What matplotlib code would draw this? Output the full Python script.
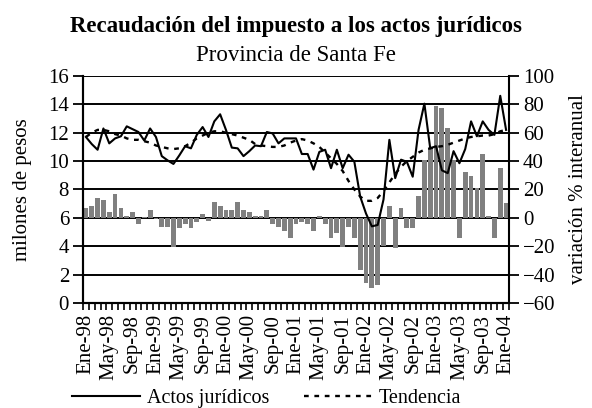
import matplotlib.pyplot as plt
import numpy as np

plt.rcParams['font.family'] = 'Liberation Serif'

meses = ['Ene', 'Feb', 'Mar', 'Abr', 'May', 'Jun', 'Jul', 'Ago', 'Sep', 'Oct', 'Nov', 'Dic']
periodos = [f'{meses[k % 12]}-{(98 + k // 12) % 100:02d}' for k in range(73)]

# recaudacion mensual, millones de pesos (Ene-98 .. Ene-04)
actos = [11.7, 11.2, 10.8, 12.3, 11.25, 11.6, 11.75, 12.45, 12.25, 12.05,
         11.45, 12.3, 11.7, 10.35, 10.05, 9.8, 10.4, 11.05, 10.9, 11.85,
         12.4, 11.7, 12.8, 13.3, 12.2, 10.95, 10.9, 10.35, 10.7, 11.1,
         11.05, 12.05, 11.95, 11.25, 11.6, 11.6, 11.6, 10.5, 10.5, 9.4,
         10.65, 10.8, 9.5, 10.8, 9.5, 10.45, 9.95, 7.5, 6.3, 5.4,
         5.5, 7.3, 11.5, 8.8, 10.1, 9.95, 8.9, 12.2, 14.05, 10.9,
         11.05, 9.35, 9.15, 10.7, 9.85, 10.85, 12.8, 11.75, 12.8, 12.2,
         11.85, 14.6, 12.2]

tendencia = [11.7, 12.0, 12.2, 12.2, 12.1, 11.9, 11.8, 11.6, 11.5, 11.5,
             11.4, 11.3, 11.1, 11.0, 10.9, 10.85, 10.9, 11.05, 11.3, 11.6,
             11.8, 12.0, 12.1, 12.1, 12.0, 11.9, 11.8, 11.65, 11.5, 11.2,
             11.1, 11.05, 11.0, 11.0, 11.1, 11.3, 11.45, 11.55, 11.45, 11.25,
             11.0, 10.6, 10.2, 9.8, 9.3, 8.6, 8.0, 7.5, 7.2, 7.2,
             7.4, 7.9, 8.5, 9.1, 9.6, 10.0, 10.3, 10.6, 10.8, 10.9,
             11.0, 11.05, 11.15, 11.3, 11.45, 11.6, 11.7, 11.75, 11.8, 11.8,
             11.9, 12.1, 12.2]

# variacion % interanual
variacion = [6.8, 8.5, 13.9, 12.7, 4.0, 16.9, 6.8, 1.6, 4.0, -4.5,
             0.9, 5.6, -0.5, -6.1, -6.1, -20.7, -7.3, -4.5, -7.3, -3.0,
             2.8, -1.9, 11.5, 8.5, 5.6, 5.6, 11.3, 5.6, 4.2, 1.4,
             1.4, 5.6, -4.5, -6.1, -9.2, -14.3, -4.5, -2.7, -4.5, -9.2,
             1.4, -4.5, -14.3, -10.4, -20.7, -6.1, -14.3, -36.6, -45.6, -49.6,
             -47.2, -19.7, 8.5, -21.4, 6.8, -7.3, -7.3, 15.5, 40.9, 49.1,
             78.9, 77.3, 63.2, 40.9, -14.3, 32.6, 29.6, 20.9, 44.9, 1.4,
             -14.3, 35.4, 10.3]

x = np.arange(len(periodos))

fig = plt.figure(figsize=(5.92, 4.08), dpi=100)
ax = fig.add_axes([0.1402, 0.2574, 0.7196, 0.5564])
ax2 = ax.twinx()
ax.set_zorder(ax2.get_zorder() + 1)
ax.patch.set_visible(False)

# barras (eje derecho) con la grilla por detras
ax2.bar(x, variacion, width=0.82, color='#808080', zorder=2)
ax2.set_ylim(-60, 100)
ax2.set_yticks(np.arange(-60, 101, 20))
ax2.grid(axis='y', color='black', linewidth=1.4)
ax2.set_axisbelow(True)
ax2.tick_params(axis='y', direction='out', length=7, width=1.3, labelsize=15, pad=3)
ax2.set_ylabel('variación % interanual', fontsize=15, labelpad=10)

l1, = ax.plot(x, actos, color='black', linewidth=1.5, label='Actos jurídicos')
l2, = ax.plot(x, tendencia, color='black', linewidth=1.7, linestyle=(0, (2, 2.4)),
              label='Tendencia')
ax.set_ylim(0, 16)
ax.set_yticks(range(0, 17, 2))
ax.set_xlim(-0.5, len(x) - 0.5)
ax.tick_params(axis='y', direction='out', length=7, width=1.3, labelsize=15, pad=3)
ax.set_ylabel('milones de pesos', fontsize=15, labelpad=12)

ax.set_xticks(x[::4])
ax.set_xticklabels(periodos[::4], rotation=90, fontsize=15)
ax.set_xticks(np.arange(-0.5, len(x), 1), minor=True)
ax.tick_params(axis='x', which='major', length=0, pad=8)
ax.tick_params(axis='x', which='minor', direction='out', length=5, width=1.2)

for a in (ax, ax2):
    a.spines['top'].set_visible(False)
    for s in ('left', 'right', 'bottom'):
        a.spines[s].set_linewidth(1.5)
ax.spines['right'].set_visible(False)

fig.text(0.5, 0.922, 'Recaudación del impuesto a los actos jurídicos',
         ha='center', va='baseline', fontsize=16.5, fontweight='bold')
fig.text(0.5, 0.85, 'Provincia de Santa Fe', ha='center', va='baseline', fontsize=16.5)

fig.legend([l1, l2], ['Actos jurídicos', 'Tendencia'], loc='center left',
           bbox_to_anchor=(72 / 592, 1 - 398 / 408), ncol=2, frameon=False, fontsize=14.5,
           handlelength=3.4, columnspacing=1.75, handletextpad=0.3,
           borderpad=0, borderaxespad=0)

fig.savefig('out.png', dpi=100)
